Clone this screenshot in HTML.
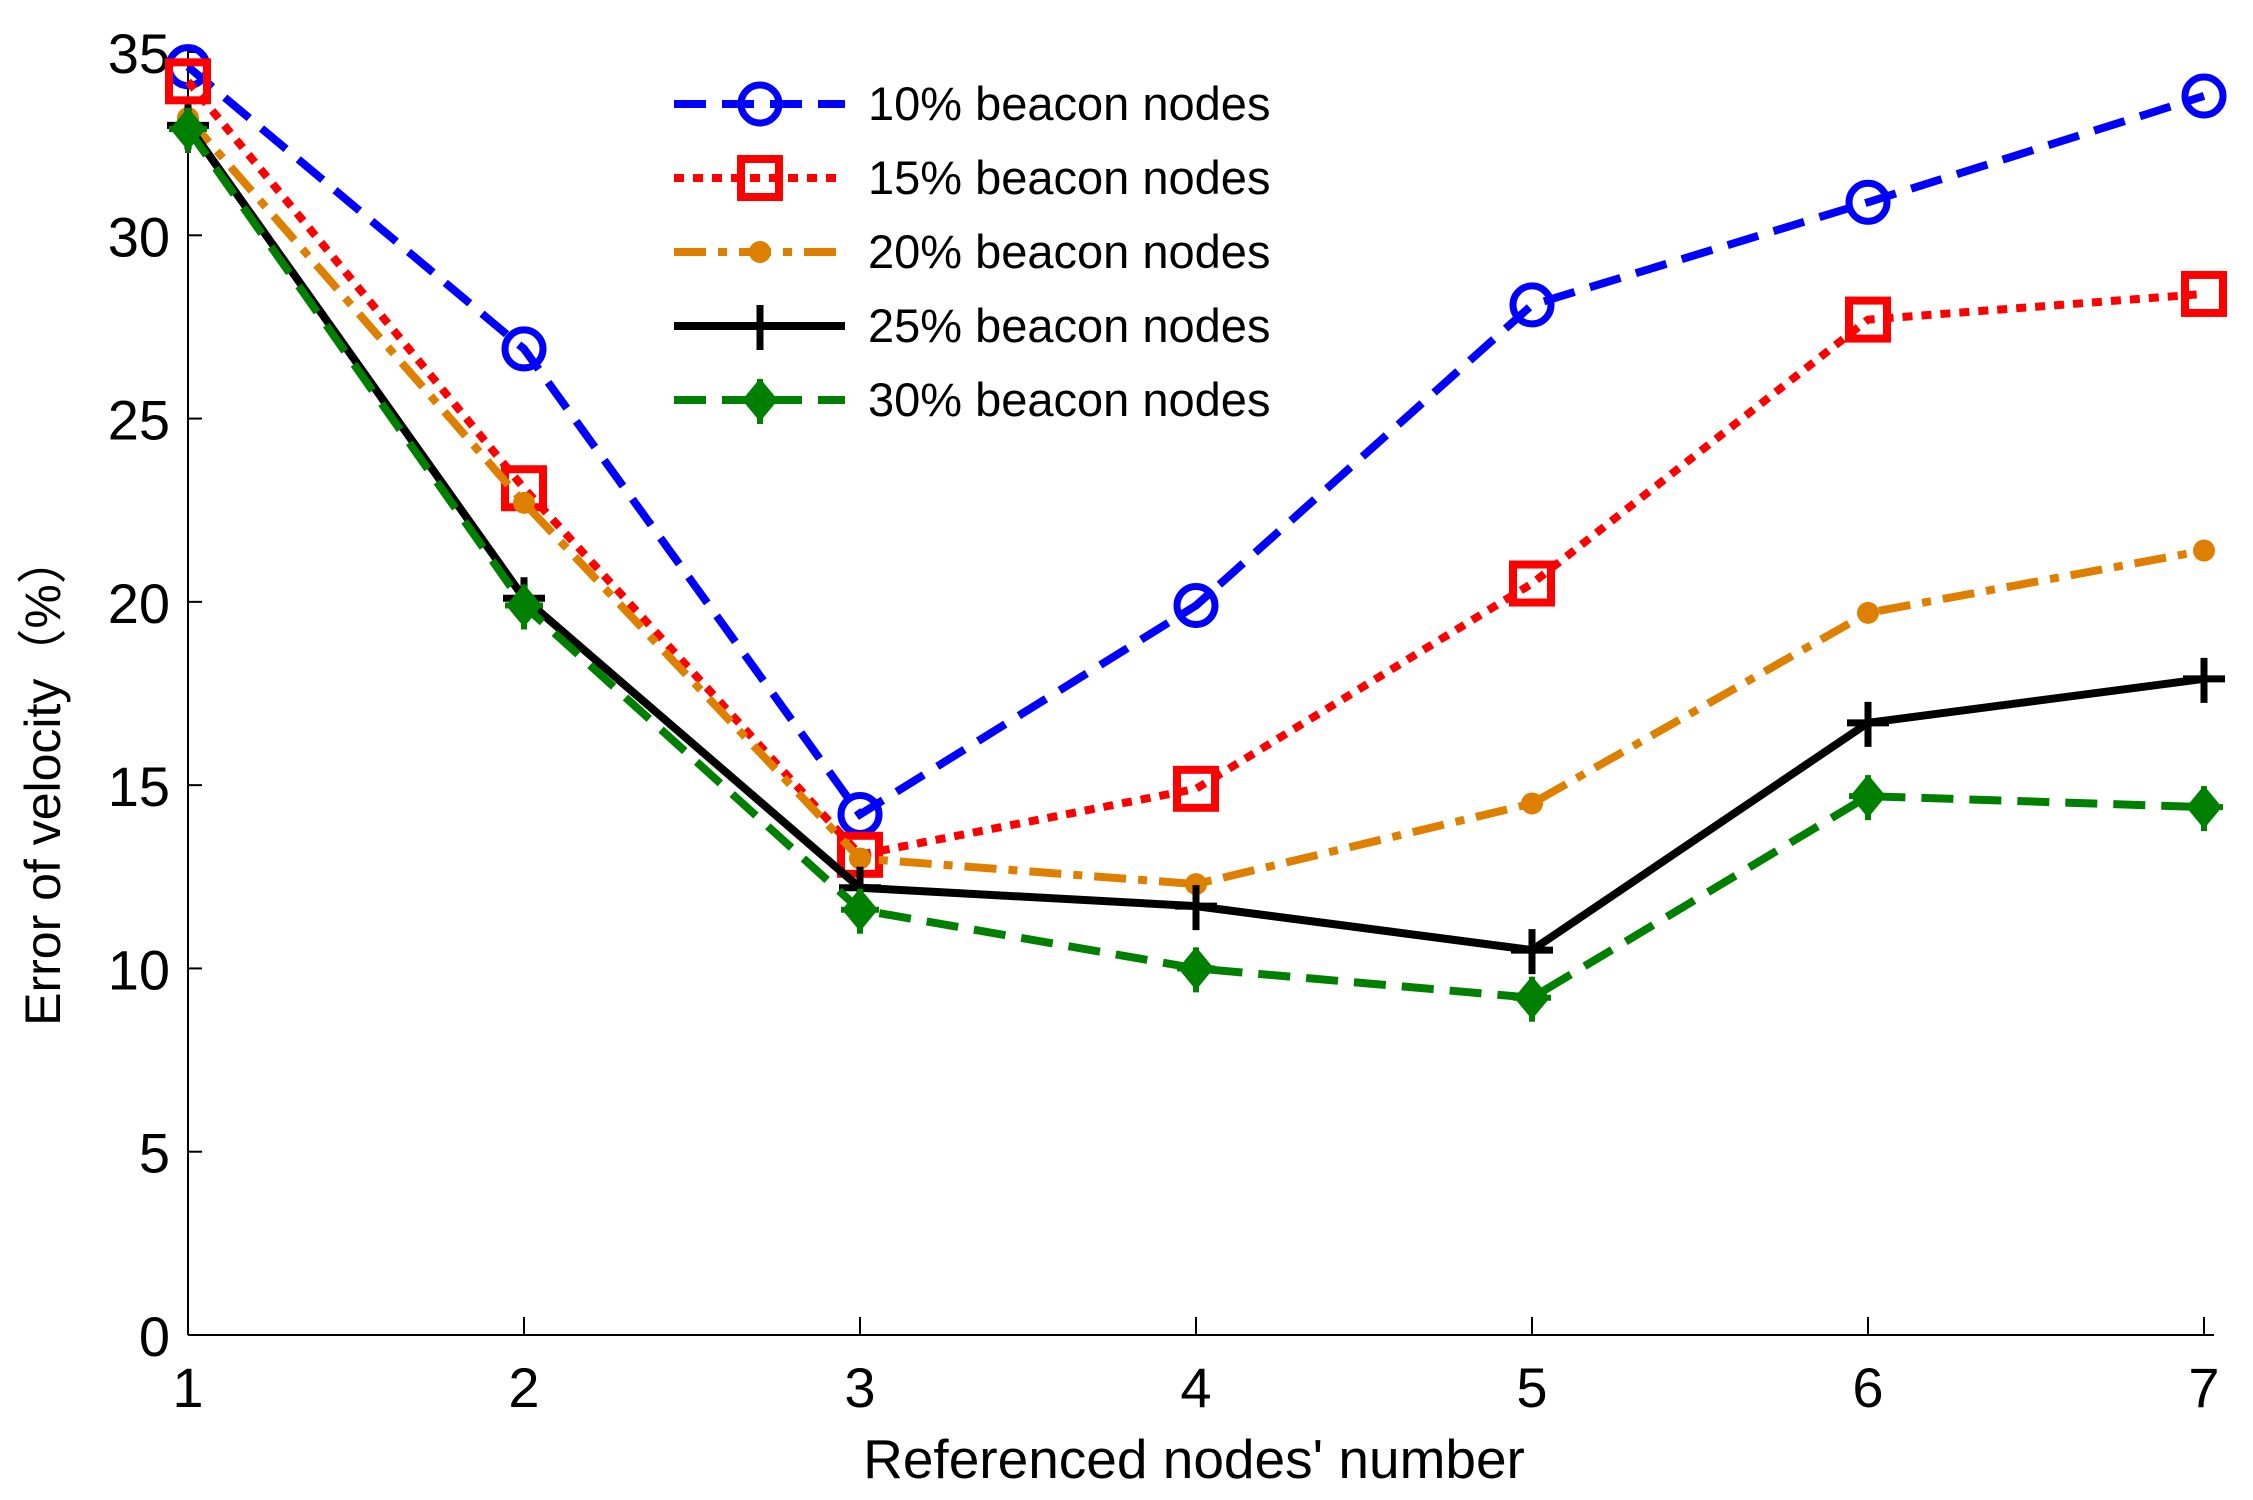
<!DOCTYPE html>
<html><head><meta charset="utf-8"><style>
html,body{margin:0;padding:0;background:#fff}
svg{display:block}
text{font-family:"Liberation Sans","Noto Sans CJK SC",sans-serif;fill:#000}
</style></head><body>
<svg id="chart" width="2253" height="1500" viewBox="0 0 2253 1500">
<g id="axes"></g>
<g id="series"></g>
<g id="legend"></g>
</svg>
<script>
const categories = [1,2,3,4,5,6,7];
const yTicks = [0,5,10,15,20,25,30,35];
const s10 = [34.6, 26.9, 14.2, 19.9, 28.1, 30.9, 33.8];
const s15 = [34.2, 23.1, 13.1, 14.9, 20.5, 27.7, 28.4];
const s20 = [33.2, 22.7, 13.0, 12.3, 14.5, 19.7, 21.4];
const s25 = [33.0, 20.1, 12.2, 11.7, 10.5, 16.7, 17.9];
const s30 = [32.9, 19.9, 11.6, 10.0, 9.2, 14.7, 14.4];
const seriesNames = ["10% beacon nodes","15% beacon nodes","20% beacon nodes","25% beacon nodes","30% beacon nodes"];

const NS="http://www.w3.org/2000/svg";
const X0=188, X1=2204, Y0=1335, Y1=52;
function xs(v){return X0+(v-1)*(X1-X0)/6;}
function ys(v){return Y0-v*(Y0-Y1)/35;}
function mk(tag,attrs,parent){const e=document.createElementNS(NS,tag);for(const k in attrs)e.setAttribute(k,attrs[k]);parent.appendChild(e);return e;}
const axes=document.getElementById('axes'), ser=document.getElementById('series'), leg=document.getElementById('legend');

let a=mk('line',{x1:X0,y1:Y0,x2:2214,y2:Y0,stroke:'#000','stroke-width':2},axes);


a=mk('line',{x1:X0,y1:Y0,x2:X0,y2:Y1-5,stroke:'#000','stroke-width':2},axes);


categories.forEach(c=>{
  const t=mk('line',{x1:xs(c),y1:Y0,x2:xs(c),y2:Y0-18,stroke:'#000','stroke-width':2},axes);
  
  
  const l=mk('text',{x:xs(c),y:Y0+72,'font-size':56,'text-anchor':'middle'},axes);
  l.textContent=c;
  
  
});
yTicks.forEach(v=>{
  const t=mk('line',{x1:X0,y1:ys(v),x2:X0+14,y2:ys(v),stroke:'#000','stroke-width':2},axes);
  
  
  const l=mk('text',{x:170,y:ys(v)+21,'font-size':56,'text-anchor':'end'},axes);
  l.textContent=v;
  
  
});
let xl=mk('text',{x:1194,y:1478,'font-size':55,'text-anchor':'middle'},axes);
xl.textContent="Referenced nodes' number";


let yl=mk('text',{x:0,y:0,'font-size':50,'text-anchor':'middle',transform:'translate(60,780) rotate(-90)'},axes);
yl.textContent="Error of velocity（%）";



const styles=[
 {data:s10,color:'#0000ff',dash:'32 16',marker:'circle'},
 {data:s15,color:'#ff0000',dash:'10 9',marker:'square'},
 {data:s20,color:'#df7f00',dash:'32 12 9 12',marker:'dot'},
 {data:s25,color:'#000000',dash:'none',marker:'plus'},
 {data:s30,color:'#008000',dash:'32 16',marker:'star'}
];
function marker(type,x,y,color,g){
  let m;
  if(type==='circle') m=mk('circle',{cx:x,cy:y,r:19,fill:'none',stroke:color,'stroke-width':7},g);
  else if(type==='square') m=mk('rect',{x:x-19,y:y-19,width:38,height:38,fill:'none',stroke:color,'stroke-width':8},g);
  else if(type==='dot') m=mk('circle',{cx:x,cy:y,r:11,fill:color},g);
  else if(type==='plus') m=mk('path',{d:`M${x-21},${y}H${x+21}M${x},${y-21}V${y+24}`,stroke:color,'stroke-width':7,fill:'none'},g);
  else m=mk('path',{d:`M${x},${y-17}L${x+14},${y}L${x},${y+17}L${x-14},${y}Z M${x-19},${y}H${x+19}M${x},${y-21}V${y+24}`,fill:color,stroke:color,'stroke-width':6},g);
  return m;
}
styles.forEach((s,i)=>{
  const g=mk('g',{},ser);
  
  
  const pts=s.data.map((v,j)=>xs(categories[j])+','+ys(v)).join(' ');
  const pl=mk('polyline',{points:pts,fill:'none',stroke:s.color,'stroke-width':8,'stroke-dasharray':s.dash},g);
  
  
  s.data.forEach((v,j)=>{
    const m=marker(s.marker,xs(categories[j]),ys(v),s.color,g);
    
    
  });
  const ly=104+i*74;
  const lg=mk('g',{},leg);
  
  
  mk('line',{x1:674,y1:ly,x2:845,y2:ly,stroke:s.color,'stroke-width':8,'stroke-dasharray':s.dash},lg);
  marker(s.marker,760,ly,s.color,lg);
  const t=mk('text',{x:868,y:ly+16,'font-size':47},lg);
  t.textContent=seriesNames[i];
});
</script>
</body></html>
